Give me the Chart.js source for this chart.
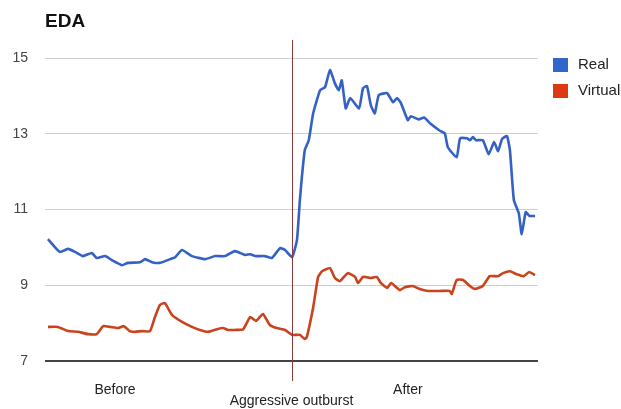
<!DOCTYPE html>
<html>
<head>
<meta charset="utf-8">
<script src="https://cdn.jsdelivr.net/npm/chart.js@4"></script>
<style>
  body { margin: 0; background: #fff; }
  #wrap { width: 621px; height: 409px; }
</style>
</head>
<body>
<div id="wrap"><canvas id="mycanvas" width="621" height="409"></canvas></div>
<script>
// time axis: 0..100 (% of recording), event at 50
var realT = [0.6, 3.0, 4.7, 6.1, 7.7, 9.5, 10.5, 12.2, 13.6, 15.6, 16.8, 19.3, 20.3, 21.7, 23.3, 25.4, 26.4, 27.8, 29.8, 32.5, 34.5, 36.5, 38.5, 40.6, 41.6, 42.8, 44.6, 46.0, 47.7, 48.7, 50.1, 51.1, 51.7, 52.1, 52.7, 53.5, 54.4, 55.8, 56.8, 57.8, 58.8, 59.6, 60.2, 61.0, 61.9, 63.7, 64.5, 65.3, 66.1, 66.9, 67.7, 69.4, 70.6, 71.4, 72.2, 73.6, 74.2, 75.8, 76.9, 78.1, 80.1, 81.1, 81.7, 83.5, 84.2, 85.6, 86.2, 86.8, 87.4, 88.8, 90.0, 91.1, 91.9, 92.7, 93.7, 94.3, 95.1, 96.1, 96.7, 97.5, 98.3, 99.4];
var realEDA = [10.22, 9.88, 9.96, 9.88, 9.77, 9.85, 9.72, 9.77, 9.66, 9.53, 9.59, 9.61, 9.69, 9.61, 9.59, 9.69, 9.74, 9.93, 9.77, 9.69, 9.77, 9.77, 9.90, 9.80, 9.82, 9.77, 9.77, 9.72, 9.98, 9.93, 9.74, 10.19, 11.25, 11.85, 12.57, 12.83, 13.54, 14.15, 14.23, 14.68, 14.33, 14.15, 14.41, 13.67, 13.94, 13.67, 14.20, 14.26, 13.75, 13.54, 14.02, 14.07, 13.83, 13.94, 13.81, 13.36, 13.46, 13.38, 13.43, 13.28, 13.08, 13.01, 12.65, 12.38, 12.88, 12.88, 12.83, 12.91, 12.83, 12.83, 12.46, 12.78, 12.54, 12.86, 12.94, 12.57, 11.25, 10.90, 10.35, 10.93, 10.83, 10.83];

var virtT = [0.6, 2.6, 4.7, 6.7, 8.7, 10.5, 11.8, 13.2, 14.8, 16.0, 17.2, 18.3, 19.7, 21.3, 22.3, 23.3, 24.3, 25.8, 27.8, 29.8, 31.4, 33.1, 34.9, 36.1, 37.1, 38.5, 40.2, 41.6, 42.8, 44.2, 45.6, 47.0, 48.7, 50.1, 51.7, 52.7, 53.1, 54.4, 55.4, 56.2, 57.8, 58.8, 59.8, 61.4, 62.9, 63.5, 64.5, 66.1, 67.3, 68.1, 69.4, 70.2, 71.4, 72.0, 73.0, 74.6, 76.0, 77.7, 80.1, 82.1, 82.5, 83.5, 84.8, 86.2, 87.2, 88.8, 90.2, 91.9, 92.9, 94.3, 95.7, 97.1, 98.2, 99.4];
var virtEDA = [7.90, 7.90, 7.79, 7.77, 7.71, 7.71, 7.92, 7.90, 7.87, 7.92, 7.79, 7.77, 7.79, 7.79, 8.16, 8.48, 8.53, 8.21, 8.03, 7.90, 7.82, 7.77, 7.84, 7.87, 7.82, 7.82, 7.84, 8.16, 8.06, 8.24, 7.95, 7.87, 7.82, 7.69, 7.69, 7.58, 7.63, 8.42, 9.22, 9.37, 9.45, 9.19, 9.11, 9.32, 9.22, 9.06, 9.22, 9.19, 9.22, 9.06, 8.93, 9.06, 8.93, 8.87, 8.95, 8.98, 8.90, 8.85, 8.85, 8.85, 8.77, 9.14, 9.14, 8.98, 8.90, 8.98, 9.24, 9.24, 9.32, 9.37, 9.29, 9.24, 9.35, 9.27];

var seriesNames = ['Real', 'Virtual'];
var seriesColors = ['#3461c4', '#c9431d'];
var legendColors = ['#3366cc', '#dc3912'];
var yTicks = [7, 9, 11, 13, 15];
var eventT = 50;
var phaseLabels = ['Before', 'Aggressive outburst', 'After'];
var phaseT = [14.2, 50, 73.6];

function pts(t, v) {
	var out = [];
	for (var i in t) out.push({x: t[i], y: v[i]});
	return out;
}

var extras = {
	id: 'extras',
	afterDatasetsDraw: function(chart) {
		var ctx = chart.ctx;
		var xs = chart.scales.x;
		var area = chart.chartArea;
		ctx.save();
		// event marker
		var ex = Math.round(xs.getPixelForValue(eventT)) + 0.5;
		ctx.strokeStyle = '#8e3a3a';
		ctx.lineWidth = 1;
		ctx.beginPath();
		ctx.moveTo(ex, 40);
		ctx.lineTo(ex, area.bottom + 20);
		ctx.stroke();

		// title
		ctx.fillStyle = '#111';
		ctx.font = 'bold 19px Arial, "Liberation Sans", sans-serif';
		ctx.textBaseline = 'middle';
		ctx.textAlign = 'left';
		ctx.fillText('EDA', 45, 22);

		// phase labels
		ctx.font = '14px Arial, "Liberation Sans", sans-serif';
		ctx.fillStyle = '#222';
		ctx.textAlign = 'center';
		for (var i in phaseLabels) {
			var y = (i == 1) ? 401 : 390;
			ctx.fillText(phaseLabels[i], xs.getPixelForValue(phaseT[i]), y);
		}

		// legend
		ctx.textAlign = 'left';
		ctx.font = '15px Arial, "Liberation Sans", sans-serif';
		for (var j in seriesNames) {
			var ly = 58 + j * 26;
			ctx.fillStyle = legendColors[j];
			ctx.fillRect(553, ly, 15, 14);
			ctx.fillStyle = '#222';
			ctx.fillText(seriesNames[j], 578, ly + 7);
		}
		ctx.restore();
	}
};

var chartdata = {
	datasets: [
		{
			label: seriesNames[0],
			data: pts(realT, realEDA),
			borderColor: seriesColors[0],
			borderWidth: 2.6,
			pointRadius: 0,
			tension: 0.15
		},
		{
			label: seriesNames[1],
			data: pts(virtT, virtEDA),
			borderColor: seriesColors[1],
			borderWidth: 2.6,
			pointRadius: 0,
			tension: 0.15
		}
	]
};

var ctx = document.getElementById('mycanvas');

var lineGraph = new Chart(ctx, {
	type: 'line',
	data: chartdata,
	options: {
		responsive: false,
		animation: false,
		layout: { padding: { top: 58, right: 83, left: 0, bottom: 0 } },
		plugins: {
			legend: { display: false },
			tooltip: { enabled: false }
		},
		scales: {
			x: {
				type: 'linear',
				min: 0,
				max: 100,
				ticks: { display: false },
				grid: { display: false },
				border: { display: false },
				afterFit: function(s) { s.height = 48; }
			},
			y: {
				min: 7,
				max: 15,
				afterBuildTicks: function(s) { s.ticks = yTicks.map(function(v) { return {value: v}; }); },
				ticks: {
					padding: 17,
					color: '#444',
					font: { family: 'Arial, "Liberation Sans", sans-serif', size: 14 }
				},
				grid: {
					drawTicks: false,
					color: function(c) { return c.tick && c.tick.value === 7 ? '#444' : '#cfcfcf'; },
					lineWidth: function(c) { return c.tick && c.tick.value === 7 ? 2 : 1; }
				},
				border: { display: false },
				afterFit: function(s) { s.width = 45; }
			}
		}
	},
	plugins: [extras]
});
</script>
</body>
</html>
